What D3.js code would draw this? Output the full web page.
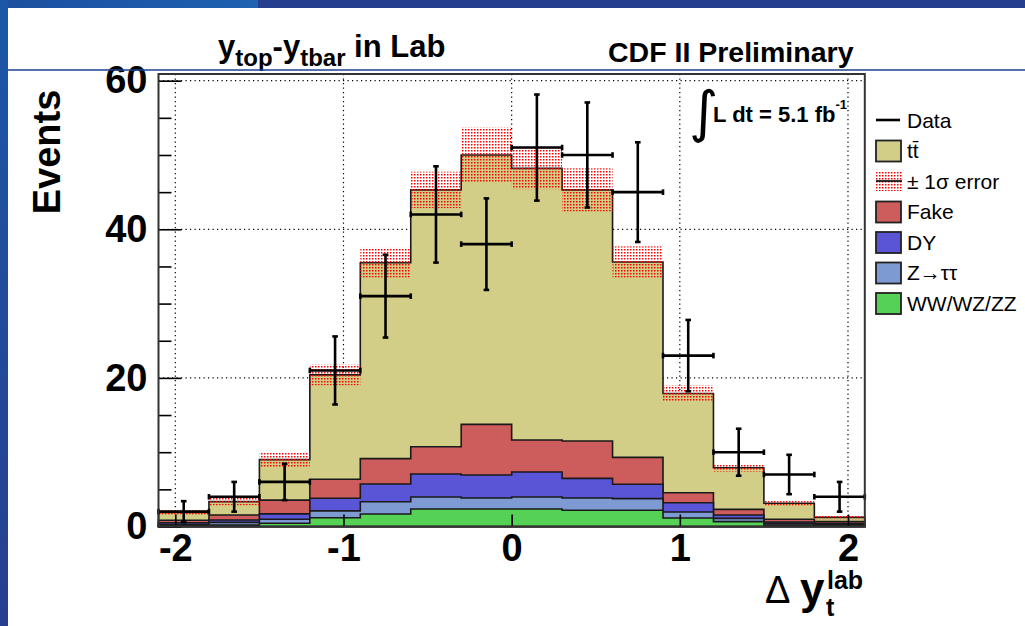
<!DOCTYPE html>
<html>
<head>
<meta charset="utf-8">
<script src="https://cdn.jsdelivr.net/npm/d3@7"></script>
<style>
  body { margin: 0; background: #fff; }
  text { font-family: "Liberation Sans", Arial, Helvetica, sans-serif; }
</style>
</head>
<body>
<script>
// bins of delta y (lab), width 0.3
const binLow = [-2.1, -1.8, -1.5, -1.2, -0.9, -0.6, -0.3, 0, 0.3, 0.6, 0.9, 1.2, 1.5, 1.8];
const binWidth = 0.3;

// stacked backgrounds, bottom -> top
const diboson = [0.1, 0.2, 0.43, 1.18, 1.68, 2.35, 2.35, 2.35, 2.18, 2.18, 1.14, 0.65, 0.2, 0.15];
const ztautau = [0.15, 0.36, 0.55, 0.92, 1.66, 1.62, 1.49, 1.62, 1.66, 1.57, 0.81, 0.45, 0.2, 0.15];
const drellYan = [0.25, 0.31, 0.72, 1.7, 2.38, 3.1, 3.09, 3.37, 2.64, 1.93, 1.25, 0.45, 0.2, 0.1];
const fakes = [0.35, 0.68, 1.85, 2.55, 3.41, 3.67, 6.82, 4.3, 5.02, 3.63, 1.35, 0.75, 0.37, 0.25];
const ttbar = [1.05, 1.8, 5.45, 14.05, 26.37, 34.56, 36.25, 36.56, 33.8, 26.29, 13.35, 5.6, 2.15, 0.58];
const mcErr = [0.3, 0.5, 1.0, 1.4, 2.0, 2.45, 3.7, 2.8, 2.9, 2.1, 1.1, 0.5, 0.3, 0.25];

// data points
const dataCounts = [2, 4, 6, 21, 31, 42, 38, 51, 50, 45, 23, 10, 7, 4];
const dataErr = [1.41, 2.0, 2.45, 4.58, 5.57, 6.48, 6.16, 7.14, 7.07, 6.71, 4.8, 3.16, 2.65, 2.0];

const xTicks = [-2, -1, 0, 1, 2];
const yTicks = [0, 20, 40, 60];
const yMinorTicks = [5, 10, 15, 25, 30, 35, 45, 50, 55];

const keys = ["diboson", "ztautau", "drellYan", "fakes", "ttbar"];
const colors = {
  diboson: "#55d255",
  ztautau: "#7d9bd2",
  drellYan: "#5a55d7",
  fakes: "#cd5c5c",
  ttbar: "#d3ce87",
};

const width = 1025;
const height = 626;

const svg = d3
  .select("body")
  .append("svg")
  .attr("width", width)
  .attr("height", height);

const defs = svg.append("defs");
defs
  .append("pattern")
  .attr("id", "dots")
  .attr("width", 3)
  .attr("height", 3)
  .attr("patternUnits", "userSpaceOnUse")
  .append("rect")
  .attr("width", 1.5)
  .attr("height", 1.5)
  .attr("fill", "#ff0000");

const sideGrad = defs
  .append("linearGradient")
  .attr("id", "side")
  .attr("x1", 0).attr("y1", 0).attr("x2", 0).attr("y2", 1);
sideGrad.append("stop").attr("offset", "0%").attr("stop-color", "#1c57a7");
sideGrad.append("stop").attr("offset", "100%").attr("stop-color", "#273f8f");

const topGrad = defs
  .append("linearGradient")
  .attr("id", "topband")
  .attr("x1", 0).attr("y1", 0).attr("x2", 1).attr("y2", 0);
topGrad.append("stop").attr("offset", "0%").attr("stop-color", "#1d4f9f");
topGrad.append("stop").attr("offset", "100%").attr("stop-color", "#1e62b0");

// slide decoration
svg.append("rect").attr("width", width).attr("height", height).attr("fill", "#fff");
svg.append("rect").attr("x", 0).attr("y", 0).attr("width", width).attr("height", 8).attr("fill", "#263e8e");
svg.append("rect").attr("x", 0).attr("y", 0).attr("width", 258).attr("height", 8).attr("fill", "url(#topband)");
svg.append("rect").attr("x", 0).attr("y", 0).attr("width", 8).attr("height", height).attr("fill", "url(#side)");

const x = d3.scaleLinear().domain([-2.1, 2.1]).range([158.5, 864.8]);
const y = d3.scaleLinear().domain([0, 60.9]).range([526.5, 74]);

const plot = svg.append("g");

// dotted grid
plot
  .selectAll("line.gx")
  .data(xTicks)
  .enter()
  .append("line")
  .attr("x1", (d) => x(d))
  .attr("x2", (d) => x(d))
  .attr("y1", y.range()[1])
  .attr("y2", y.range()[0])
  .attr("stroke", "#000")
  .attr("stroke-width", 1.2)
  .attr("stroke-dasharray", "1.2,3.3");
plot
  .selectAll("line.gy")
  .data([20, 40, 60])
  .enter()
  .append("line")
  .attr("x1", x.range()[0])
  .attr("x2", x.range()[1])
  .attr("y1", (d) => y(d))
  .attr("y2", (d) => y(d))
  .attr("stroke", "#000")
  .attr("stroke-width", 1.2)
  .attr("stroke-dasharray", "1.2,3.3");

// stacked histograms
const rows = binLow.map((lo, i) => ({
  lo,
  diboson: diboson[i],
  ztautau: ztautau[i],
  drellYan: drellYan[i],
  fakes: fakes[i],
  ttbar: ttbar[i],
}));
const series = d3.stack().keys(keys)(rows);

const area = d3
  .area()
  .curve(d3.curveStepAfter)
  .x((p) => x(p.x))
  .y0(y(0))
  .y1((p) => y(p.top));

series
  .slice()
  .reverse()
  .forEach((s) => {
    const pts = s.map((d, i) => ({ x: binLow[i], top: d[1] }));
    pts.push({ x: binLow[binLow.length - 1] + binWidth, top: s[s.length - 1][1] });
    plot
      .append("path")
      .attr("d", area(pts))
      .attr("fill", colors[s.key])
      .attr("stroke", "#1a1a1a")
      .attr("stroke-width", 1.6)
      .attr("stroke-linejoin", "miter");
  });

// MC uncertainty band
const totals = series[series.length - 1].map((d) => d[1]);
plot
  .selectAll("rect.band")
  .data(binLow)
  .enter()
  .append("rect")
  .attr("x", (d) => x(d))
  .attr("width", (d) => x(d + binWidth) - x(d))
  .attr("y", (d, i) => y(totals[i] + mcErr[i]))
  .attr("height", (d, i) => y(totals[i] - mcErr[i]) - y(totals[i] + mcErr[i]))
  .attr("fill", "url(#dots)");

// axes ticks (inward)
const yAxis = d3
  .axisLeft(y)
  .tickValues(yTicks)
  .tickSize(-23)
  .tickPadding(11)
  .tickFormat((d) => String(d));
const yMinor = d3.axisLeft(y).tickValues(yMinorTicks).tickSize(-13).tickFormat("");
const xAxis = d3
  .axisBottom(x)
  .tickValues(xTicks)
  .tickSize(-12)
  .tickPadding(8)
  .tickFormat((d) => String(d));

function styleAxis(g) {
  g.select(".domain").remove();
  g.selectAll("line").attr("stroke", "#000").attr("stroke-width", 1.6);
  g.selectAll("text")
    .attr("fill", "#000")
    .style("font-family", '"Liberation Sans", Arial, sans-serif')
    .style("font-weight", "bold")
    .style("font-size", "38px");
}

svg.append("g").attr("transform", `translate(${x.range()[0]},0)`).call(yMinor).call(styleAxis);
svg.append("g").attr("transform", `translate(${x.range()[0]},0)`).call(yAxis).call(styleAxis);
svg.append("g").attr("transform", `translate(0,${y(0)})`).call(xAxis).call(styleAxis);

// data points
const dataG = svg.append("g").attr("stroke", "#000").attr("stroke-width", 2.6);
const cap = 2.8;
binLow.forEach((lo, i) => {
  const xc = x(lo + binWidth / 2);
  const x0 = x(lo);
  const x1 = x(lo + binWidth);
  const yv = y(dataCounts[i]);
  const yHi = y(dataCounts[i] + dataErr[i]);
  const yLo = y(Math.max(0, dataCounts[i] - dataErr[i]));
  dataG.append("line").attr("x1", x0).attr("x2", x1).attr("y1", yv).attr("y2", yv);
  dataG.append("line").attr("x1", xc).attr("x2", xc).attr("y1", yHi).attr("y2", yLo);
  dataG.append("line").attr("x1", x0).attr("x2", x0).attr("y1", yv - cap).attr("y2", yv + cap);
  dataG.append("line").attr("x1", x1).attr("x2", x1).attr("y1", yv - cap).attr("y2", yv + cap);
  dataG.append("line").attr("x1", xc - cap).attr("x2", xc + cap).attr("y1", yHi).attr("y2", yHi);
  dataG.append("line").attr("x1", xc - cap).attr("x2", xc + cap).attr("y1", yLo).attr("y2", yLo);
});

// frame
svg
  .append("rect")
  .attr("x", x.range()[0])
  .attr("y", y.range()[1])
  .attr("width", x.range()[1] - x.range()[0])
  .attr("height", y.range()[0] - y.range()[1])
  .attr("fill", "none")
  .attr("stroke", "#333")
  .attr("stroke-width", 2);

// luminosity
svg
  .append("text")
  .attr("x", 689)
  .attr("y", 131)
  .style("font-family", '"DejaVu Sans", sans-serif')
  .style("font-size", "56px")
  .text("\u222B");
const lumi = svg
  .append("text")
  .attr("x", 713)
  .attr("y", 122)
  .style("font-weight", "bold")
  .style("font-size", "22px");
lumi.append("tspan").text("L dt = 5.1 fb");
lumi.append("tspan").attr("dy", -13).style("font-size", "13px").text("-1");

// titles
const title = svg
  .append("text")
  .attr("x", 218)
  .attr("y", 57)
  .style("font-weight", "bold")
  .style("font-size", "31px");
title.append("tspan").text("y");
title.append("tspan").attr("dy", 9).style("font-size", "24px").text("top");
title.append("tspan").attr("dy", -9).text("-y");
title.append("tspan").attr("dy", 9).style("font-size", "24px").text("tbar");
title.append("tspan").attr("dy", -9).text(" in Lab");

svg
  .append("text")
  .attr("x", 608)
  .attr("y", 62)
  .style("font-weight", "bold")
  .style("font-size", "28.5px")
  .text("CDF II Preliminary");

svg
  .append("text")
  .attr("transform", "translate(60,152) rotate(-90)")
  .attr("text-anchor", "middle")
  .style("font-weight", "bold")
  .style("font-size", "38px")
  .text("Events");

const xTitle = svg.append("g");
xTitle
  .append("text")
  .attr("x", 765)
  .attr("y", 603)
  .style("font-size", "38px")
  .text("\u0394");
xTitle
  .append("text")
  .attr("x", 800)
  .attr("y", 604)
  .style("font-weight", "bold")
  .style("font-size", "44px")
  .text("y");
xTitle
  .append("text")
  .attr("x", 826)
  .attr("y", 616)
  .style("font-weight", "bold")
  .style("font-size", "25px")
  .text("t");
xTitle
  .append("text")
  .attr("x", 827)
  .attr("y", 589)
  .style("font-weight", "bold")
  .style("font-size", "25px")
  .text("lab");

// legend
const legendLabels = ["Data", "tt\u0304", "\u00B1 1\u03C3 error", "Fake", "DY", "Z\u2192\u03C4\u03C4", "WW/WZ/ZZ"];
const legendKinds = ["data", "ttbar", "err", "fakes", "drellYan", "ztautau", "diboson"];
const legend = svg.append("g").attr("transform", "translate(876,120)");
legendLabels.forEach((label, i) => {
  const row = legend.append("g").attr("transform", `translate(0,${i * 30.5})`);
  const kind = legendKinds[i];
  if (kind === "data") {
    row.append("line").attr("x1", 0).attr("x2", 24).attr("y1", 0).attr("y2", 0)
      .attr("stroke", "#000").attr("stroke-width", 2.6);
  } else if (kind === "err") {
    row.append("rect").attr("x", 0).attr("y", -10).attr("width", 26).attr("height", 20)
      .attr("fill", "url(#dots)");
    row.append("line").attr("x1", 0).attr("x2", 26).attr("y1", 0).attr("y2", 0)
      .attr("stroke", "#000").attr("stroke-width", 1.6);
  } else {
    row.append("rect").attr("x", 0).attr("y", -10).attr("width", 25).attr("height", 21)
      .attr("fill", colors[kind]).attr("stroke", "#222").attr("stroke-width", 1.8);
  }
  row
    .append("text")
    .attr("x", 31)
    .attr("y", 7.5)
    .style("font-size", "21px")
    .text(label);
});

// slide rule line
svg
  .append("line")
  .attr("x1", 8)
  .attr("x2", width)
  .attr("y1", 70)
  .attr("y2", 70)
  .attr("stroke", "#1e3f92")
  .attr("stroke-width", 1.6);
</script>
</body>
</html>
